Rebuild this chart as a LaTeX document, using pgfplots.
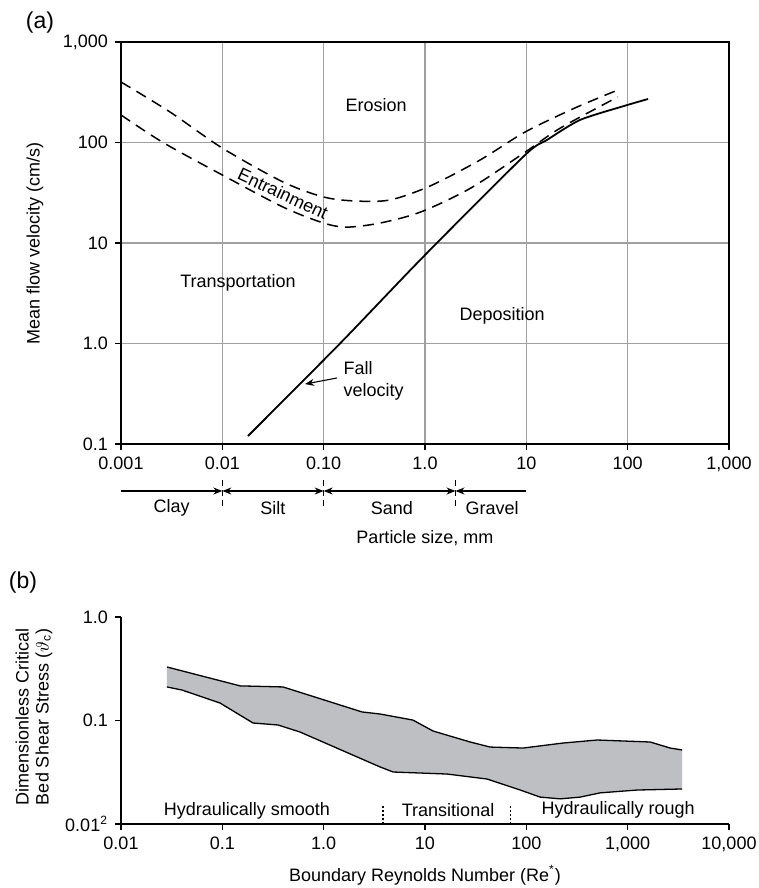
\documentclass[border=0pt]{standalone}
\usepackage{fontspec}
\setmainfont{Liberation Sans}
\usepackage{pgfplots}
\pgfplotsset{compat=1.18}
\usetikzlibrary{arrows.meta}
\definecolor{bandgray}{RGB}{190,191,195}
\definecolor{gridgray}{RGB}{160,160,160}

\begin{document}
\begin{tikzpicture}[font=\fontsize{9}{10}\selectfont]
\useasboundingbox (0,0) rectangle (379.5pt,-444pt);
\node at (20pt,-11.5pt) {\fontsize{11.5}{12}\selectfont (a)};
\node at (11.5pt,-291.5pt) {\fontsize{11.5}{12}\selectfont (b)};

% (a) Hjulstrom diagram
\begin{axis}[
  at={(60.5pt,-222pt)}, anchor=south west,
  scale only axis, width=304pt, height=201pt,
  xmode=log, ymode=log,
  xmin=0.001, xmax=1000, ymin=0.1, ymax=1000,
  xtick={0.001,0.01,0.1,1,10,100,1000},
  xticklabels={0.001,0.01,0.10,1.0,10,100,{1,000}},
  ytick={0.1,1,10,100,1000},
  yticklabels={0.1,1.0,10,100,{1,000}},
  xminorticks=false, yminorticks=false,
  tick pos=left, tick align=outside, major tick length=3pt,
  grid=major, major grid style={gridgray, line width=0.55pt},
  axis line style={line width=0.75pt},
  tick style={black, line width=0.6pt},
  clip=false,
  tick label style={font=\fontsize{9}{10}\selectfont},
  xlabel={Particle size, mm},
  xlabel style={at={(axis description cs:0.5,-0.2338)}, anchor=center},
  ylabel={Mean flow velocity (cm/s)},
  ylabel style={at={(axis description cs:-0.1414,0.5)}, anchor=center},
]
% upper entrainment curve
\addplot[black, line width=0.75pt, dash pattern=on 5.5pt off 3.5pt, smooth] coordinates {
  (0.001,400) (0.00305,201) (0.01,88) (0.0397,40.5) (0.1,28.7) (0.204,26.2)
  (0.45,26.8) (1.12,36.9) (3.5,67) (9.7,127) (30,220) (80,333)
};
% lower entrainment curve
\addplot[black, line width=0.75pt, dash pattern=on 5.5pt off 3.5pt, smooth] coordinates {
  (0.001,188) (0.0026,100) (0.01,47.5) (0.0397,22.8) (0.1,15.8) (0.17,14.4)
  (0.36,15.8) (0.9,20.3) (2.8,35) (9.7,80) (21.6,139) (80,284)
};
% fall velocity
\addplot[black, line width=0.9pt, smooth, tension=0.4] coordinates {
  (0.0179,0.12) (0.145,1.0) (0.957,7.26) (9.7,75) (16,106) (34,168) (99,236) (159,271)
};

\node at (axis cs:0.329,236) {Erosion};
\node[rotate=-25, inner sep=0pt] at (axis cs:0.0397,31) {Entrainment};
\node at (axis cs:0.0143,4.0) {Transportation};
\node at (axis cs:5.77,1.88) {Deposition};
\node[anchor=west, align=left, inner sep=0pt] at (axis cs:0.156,0.424) {Fall\\[1pt]velocity};
\draw[-{Stealth[length=4.5pt,width=3.5pt]}, line width=0.55pt] (axis cs:0.1355,0.454) -- (axis cs:0.0655,0.395);

% particle size classes
\draw[line width=0.55pt, -{Stealth[length=4.5pt,width=3.5pt]}]
  ([yshift=-23.5pt]axis cs:0.001,0.1) -- ([yshift=-23.5pt]axis cs:0.01,0.1);
\draw[line width=0.55pt, {Stealth[length=4.5pt,width=3.5pt]}-{Stealth[length=4.5pt,width=3.5pt]}]
  ([yshift=-23.5pt]axis cs:0.01,0.1) -- ([yshift=-23.5pt]axis cs:0.1,0.1);
\draw[line width=0.55pt, {Stealth[length=4.5pt,width=3.5pt]}-{Stealth[length=4.5pt,width=3.5pt]}]
  ([yshift=-23.5pt]axis cs:0.1,0.1) -- ([yshift=-23.5pt]axis cs:2,0.1);
\draw[line width=0.55pt, {Stealth[length=4.5pt,width=3.5pt]}-]
  ([yshift=-23.5pt]axis cs:2,0.1) -- ([yshift=-23.5pt]axis cs:10,0.1);
\draw[line width=0.55pt, dash pattern=on 3pt off 2pt]
  ([yshift=-18pt]axis cs:0.01,0.1) -- ([yshift=-31.5pt]axis cs:0.01,0.1);
\draw[line width=0.55pt, dash pattern=on 3pt off 2pt]
  ([yshift=-18pt]axis cs:0.1,0.1) -- ([yshift=-31.5pt]axis cs:0.1,0.1);
\draw[line width=0.55pt, dash pattern=on 3pt off 2pt]
  ([yshift=-18pt]axis cs:2,0.1) -- ([yshift=-31.5pt]axis cs:2,0.1);
\node at ([yshift=-32pt]axis cs:0.00316,0.1) {Clay};
\node at ([yshift=-32pt]axis cs:0.0316,0.1) {Silt};
\node at ([yshift=-32pt]axis cs:0.47,0.1) {Sand};
\node at ([yshift=-32pt]axis cs:4.6,0.1) {Gravel};
\end{axis}

% (b) critical shear stress band
\begin{axis}[
  at={(60.5pt,-412pt)}, anchor=south west,
  scale only axis, width=304pt, height=103.5pt,
  xmode=log, ymode=log,
  xmin=0.01, xmax=10000, ymin=0.01, ymax=1,
  axis lines*=left,
  xtick={0.01,0.1,1,10,100,1000,10000},
  xticklabels={0.01,0.1,1.0,10,100,{1,000},{10,000}},
  ytick={0.01,0.1,1},
  yticklabels={0.01\textsuperscript{2},0.1,1.0},
  xminorticks=false, yminorticks=false,
  tick align=outside, major tick length=3pt,
  axis line style={line width=0.75pt},
  tick style={black, line width=0.6pt},
  clip=false,
  tick label style={font=\fontsize{9}{10}\selectfont},
  xlabel={Boundary Reynolds Number (Re\textsuperscript{*})},
  xlabel style={at={(axis description cs:0.5,-0.246)}, anchor=center},
  ylabel={Dimensionless Critical\\Bed Shear Stress (\(\vartheta_{\mathrm{c}}\))},
  ylabel style={at={(axis description cs:-0.143,0.517)}, anchor=center, align=center, font=\fontsize{9}{10}\selectfont},
]
\addplot[fill=bandgray, draw=none] coordinates {
  (0.0284,0.329) (0.150,0.216) (0.397,0.211) (2.39,0.121) (3.6,0.1156) (7.6,0.101)
  (12.0,0.0792) (27.9,0.0620) (44,0.0554) (93,0.0542) (231,0.0606) (500,0.0648)
  (1667,0.0620) (2630,0.0542) (3450,0.0519)
  (3450,0.0218) (1242,0.0213) (535,0.0200) (340,0.0182) (216,0.0175) (137,0.0182)
  (87,0.0213) (41,0.0272) (16.5,0.0304) (4.85,0.0318) (3.6,0.0356) (0.585,0.0774)
  (0.355,0.0905) (0.201,0.0946) (0.0948,0.1476) (0.040,0.197) (0.0284,0.211)
} -- cycle;
\addplot[black, line width=0.65pt] coordinates {
  (0.0284,0.329) (0.150,0.216) (0.397,0.211) (2.39,0.121) (3.6,0.1156) (7.6,0.101)
  (12.0,0.0792) (27.9,0.0620) (44,0.0554) (93,0.0542) (231,0.0606) (500,0.0648)
  (1667,0.0620) (2630,0.0542) (3450,0.0519)
};
\addplot[black, line width=0.65pt] coordinates {
  (0.0284,0.211) (0.040,0.197) (0.0948,0.1476) (0.201,0.0946) (0.355,0.0905)
  (0.585,0.0774) (3.6,0.0356) (4.85,0.0318) (16.5,0.0304) (41,0.0272) (87,0.0213)
  (137,0.0182) (216,0.0175) (340,0.0182) (535,0.0200) (1242,0.0213) (3450,0.0218)
};
\draw[line width=0.6pt, dash pattern=on 1pt off 1pt] (axis cs:3.85,0.01) -- (axis cs:3.85,0.0156);
\draw[line width=0.6pt, dash pattern=on 1pt off 1pt] (axis cs:70,0.01) -- (axis cs:70,0.0156);
\node at (axis cs:0.175,0.01336) {Hydraulically smooth};
\node at (axis cs:16.9,0.01365) {Transitional};
\node at (axis cs:805,0.01365) {Hydraulically rough};
\end{axis}
\end{tikzpicture}
\end{document}
